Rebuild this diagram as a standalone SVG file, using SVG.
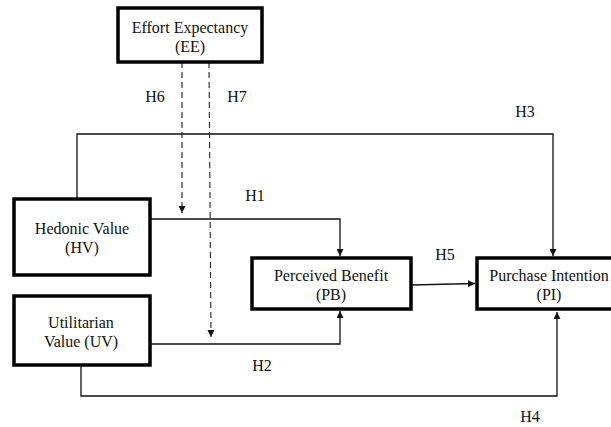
<svg xmlns="http://www.w3.org/2000/svg" width="611" height="427" viewBox="0 0 611 427">
<defs>
<style>
.box{fill:#fff;stroke:#000;stroke-width:3.5}
text{font-family:'Liberation Serif','Times New Roman','DejaVu Serif',serif;font-size:16px;fill:#111;text-anchor:middle}
.c{fill:none;stroke:#111;stroke-width:1.3}
.d{fill:none;stroke:#222;stroke-width:1.1;stroke-dasharray:6,4}
</style>
<marker id="ah" viewBox="0 0 10 10" refX="10" refY="5" markerWidth="7" markerHeight="7" markerUnits="userSpaceOnUse" orient="auto">
<path d="M0,0 L10,5 L0,10 z" fill="#111"/>
</marker>
</defs>
<rect width="611" height="427" fill="#fff"/>
<g id="connectors">
<path class="c" d="M150,219 H340 V256" marker-end="url(#ah)"/>
<path class="c" d="M150,344 H340 V311" marker-end="url(#ah)"/>
<path class="c" d="M411,285 L475,283.5" marker-end="url(#ah)"/>
<path class="c" d="M77,199 V134 H553 V256" marker-end="url(#ah)"/>
<path class="c" d="M81,365 V396 H557 V312" marker-end="url(#ah)"/>
<path class="d" d="M182,62 V213" marker-end="url(#ah)"/>
<path class="d" d="M209,62 L211,337" marker-end="url(#ah)"/>
</g>
<g id="EE">
<rect class="box" x="118" y="8" width="144" height="54"/>
<text x="190" y="33">Effort Expectancy</text>
<text x="190" y="52">(EE)</text>
</g>
<g id="HV">
<rect class="box" x="14" y="199" width="136" height="76"/>
<text x="82" y="234">Hedonic Value</text>
<text x="82" y="253">(HV)</text>
</g>
<g id="UV">
<rect class="box" x="14" y="296" width="136" height="69"/>
<text x="81" y="328">Utilitarian</text>
<text x="81" y="347">Value (UV)</text>
</g>
<g id="PB">
<rect class="box" x="252" y="258" width="159" height="51"/>
<text x="331" y="281">Perceived Benefit</text>
<text x="331" y="300">(PB)</text>
</g>
<g id="PI">
<rect class="box" x="477" y="258" width="140" height="51"/>
<text x="549" y="281">Purchase Intention</text>
<text x="549" y="300">(PI)</text>
</g>
<g id="labels">
<text x="155" y="102">H6</text>
<text x="237" y="102">H7</text>
<text x="255" y="201">H1</text>
<text x="262" y="371">H2</text>
<text x="525" y="117">H3</text>
<text x="445" y="260">H5</text>
<text x="530" y="422">H4</text>
</g>
</svg>
